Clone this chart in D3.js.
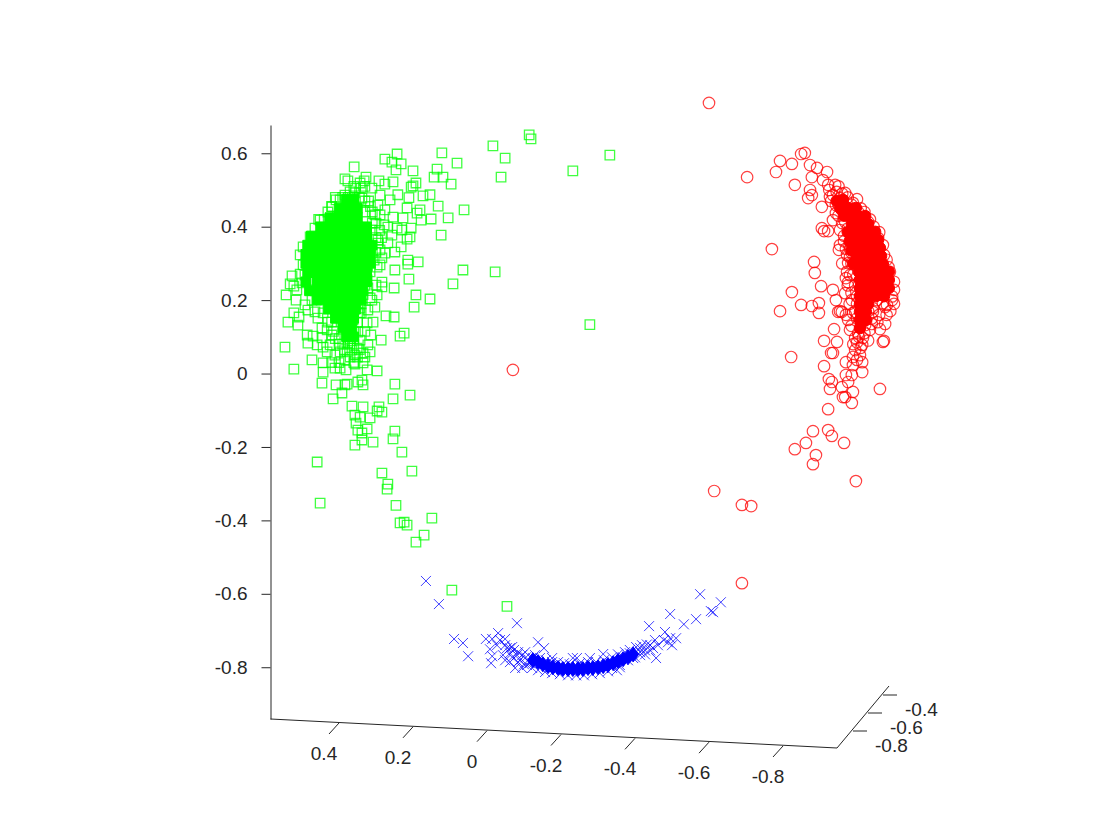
<!DOCTYPE HTML>
<html>
<head>
<meta charset="utf-8">
<script src="https://cdnjs.cloudflare.com/ajax/libs/d3/7.8.5/d3.min.js"></script>
<style>
  body { margin: 0; background: #fff; }
  text { font-family: "Liberation Sans", Arial, sans-serif; font-size: 19px; fill: #262626; }
</style>
</head>
<body>
<svg id="chart" width="1120" height="840"></svg>
<script>
// tick values and labels for the three axes
const xTicks = [0.4, 0.2, 0, -0.2, -0.4, -0.6, -0.8];
const xTickLabels = ["0.4", "0.2", "0", "-0.2", "-0.4", "-0.6", "-0.8"];
const yTicks = [0.6, 0.4, 0.2, 0, -0.2, -0.4, -0.6, -0.8];
const yTickLabels = ["0.6", "0.4", "0.2", "0", "-0.2", "-0.4", "-0.6", "-0.8"];
const zTicks = [-0.8, -0.6, -0.4];
const zTickLabels = ["-0.8", "-0.6", "-0.4"];

const greenPoints = [
[.243,.598],[.276,.584],[.257,.576],[.232,.571],[.246,.555],[.2,.552],[.122,.601],[.081,.573],[.135,.557],[.143,.535],
[.119,.535],[.097,.516],[.359,.563],[.384,.530],[.376,.525],[.327,.535],[.332,.525],[.292,.525],[.254,.522],[.276,.516],
[.192,.519],[.2,.511],[.205,.508],[.154,.487],[.173,.484],[.241,.487],[.211,.479],[.132,.456],[.181,.446],[.189,.437],
[.151,.421],[.105,.424],[.178,.418],[.062,.446],[.124,.377],[.205,.396],[.208,.372],[.216,.366],[.232,.345],[.249,.331],
[.214,.309],[.214,.298],[.186,.304],[.249,.282],[.211,.257],[.092,.244],[.284,.249],[.284,.236],[.251,.233],[.527,.266],
[.505,.271],[.522,.238],[.5,.247],[.497,.345],[.478,.372],[.419,.454],[.397,.473],[.370,.495],[.343,.519],[.311,.505],
[.289,.486],[.262,.473],[.216,.451],[.254,.426],[.227,.424],[.243,.396],[.268,.399],[.230,.391],[.257,.377],[.276,.328],
[.289,.296],[.316,.277],[.297,.290],[.324,.255],[.343,.263],[.065,.282],[-.022,.277],[-.278,.133],[-.016,.620],[-.049,.587],
[-.038,.535],[-.114,.650],[-.119,.639],[-.232,.552],[-.332,.595],[.295,.459],[.276,.446],[.303,.432],[.278,.405],[.295,.364],
[.268,.356],[.284,.315],[.305,.309],[.3,.241],[.311,.200],[.322,.173],[.516,.2],[.543,.214],[.522,.165],[.508,.154],
[.538,.140],[.511,.132],[.486,.105],[.470,.102],[.484,.083],[.546,.072],[.459,.078],[.443,.072],[.432,.059],[.473,.037],
[.522,.012],[.443,.029],[.443,.004],[.411,.015],[.397,.015],[.381,.010],[.357,.026],[.335,.029],[.324,.010],[.297,.007],
[.446,-.026],[.408,-.031],[.384,-.031],[.378,-.029],[.349,-.023],[.338,-.018],[.335,-.031],[.249,-.029],[.208,-.059],[.254,-.069],
[.416,-.069],[.392,-.053],[.365,-.089],[.335,-.091],[.292,-.091],[.297,-.102],[.284,-.105],[.357,-.113],[.343,-.119],[.316,-.121],
[.354,-.135],[.349,-.154],[.324,-.151],[.338,-.162],[.338,-.181],[.308,-.187],[.249,-.157],[.254,-.178],[.357,-.195],[.251,.154],
[.273,.157],[.197,.181],[.154,.203],[.192,.214],[.224,.110],[.235,.102],[.286,.091],[.314,.105],[.308,.140],[.297,.214],
[.303,.181],[.316,.206],[.343,.178],[.324,.138],[.362,.146],[.384,.140],[.316,.059],[.335,.056],[.351,.069],[.397,.059],
[.378,.059],[.343,.091],[.376,.083],[.349,.113],[.432,.119],[.446,.124],[.419,.105],[.492,.187],[.484,.173],[.465,.168],
[.443,.165],[.514,.228],[.532,.244],[.230,-.214],[.284,-.271],[.203,-.266],[.268,-.301],[.270,-.315],[.246,-.359],[.149,-.394],
[.224,-.405],[.235,-.407],[.216,-.413],[.170,-.440],[.192,-.459],[.095,-.590],[-.054,-.634],[.459,-.241],[.451,-.353],[.497,.296],
[.505,.323],[.492,.268],[.478,.228],[.473,.200],[.457,.151],[.446,.097],[.424,.078],[.365,.064],[.411,.050],[.384,.037],
[.357,.050],[.322,.078],[.322,.233],[.289,.337],[.311,.391],[.289,.432],[.338,.478],[.357,.492],[.384,.486],[.408,.473],
[.451,.418],[.465,.396],
[.44,.42],[.455,.42],[.30,.41],[.31,.41],[.29,.39],[.30,.37],[.285,.37],[.295,.355],[.30,.33],[.31,.33],
[.325,.31],[.33,.29],[.47,.29],[.335,.265],[.345,.265],[.34,.24],[.33,.24],[.345,.215],[.335,.215],[.35,.19],
[.34,.19],[.35,.165],[.345,.165],[.34,.165],[.35,.14],[.43,.14],[.42,.14],[.36,.115],[.415,.115],[.33,.115],
[.36,.095],[.37,.095],[.41,.095],[.40,.095],[.36,.08],[.39,.08],[.40,.08],[.37,.08],[.385,.065],[.345,.065],
[.35,.045],[.37,.045],[.33,.045],[.36,.03],[.40,.03],[.42,.03],[.36,.48],[.345,.48],[.375,.48],[.39,.48],
[.41,.48],[.33,.47],[.32,.47],[.315,.455],[.42,.455],[.43,.44],[.33,.44],[.31,.44],[.355,.505],[.34,.505],
[.33,.51],[.36,.51]
];
// the part of the cloud too dense to tell single markers apart
const greenDense = [
[.36,.475],[.38,.475],
[.35,.45],[.375,.45],[.40,.45],
[.35,.425],[.375,.425],[.40,.425],[.425,.425],
[.325,.40],[.35,.40],[.375,.40],[.40,.40],[.425,.40],[.45,.40],
[.325,.375],[.35,.375],[.375,.375],[.40,.375],[.425,.375],[.45,.375],[.475,.375],
[.31,.35],[.335,.35],[.36,.35],[.385,.35],[.41,.35],[.435,.35],[.46,.35],[.485,.35],
[.315,.325],[.34,.325],[.365,.325],[.39,.325],[.415,.325],[.44,.325],[.465,.325],[.49,.325],
[.315,.30],[.34,.30],[.365,.30],[.39,.30],[.415,.30],[.44,.30],[.465,.30],[.49,.30],
[.325,.275],[.35,.275],[.375,.275],[.40,.275],[.425,.275],[.45,.275],[.475,.275],[.485,.275],
[.325,.25],[.335,.25],[.36,.25],[.385,.25],[.41,.25],[.435,.25],[.46,.25],[.49,.25],
[.335,.225],[.345,.225],[.37,.225],[.395,.225],[.42,.225],[.445,.225],[.465,.225],[.48,.225],
[.34,.20],[.35,.20],[.375,.20],[.40,.20],[.425,.20],[.45,.20],[.46,.20],
[.355,.175],[.38,.175],[.405,.175],[.43,.175],
[.36,.15],[.385,.15],[.41,.15],
[.365,.125],[.39,.125],
[.36,.10],[.38,.10]
];

const redPoints = [
[-.859,.601],[-.849,.598],[-.792,.579],[-.824,.571],[-.781,.549],[-.832,.514],[-.873,.568],[-.892,.560],[-.919,.549],[-.878,.535],
[-.908,.527],[-.873,.500],[-.868,.478],[-.878,.486],[-.905,.454],[-.922,.514],[-.941,.514],[-.927,.481],[-.954,.478],[-.989,.465],
[-.905,.396],[-.911,.388],[-.922,.388],[-.935,.418],[-.954,.391],[-.954,.350],[-.951,.337],[-.770,.339],[-.884,.304],[-.886,.274],
[-.903,.238],[-.824,.222],[-.935,.228],[-.943,.200],[-.897,.192],[-.878,.184],[-.849,.187],[-.792,.170],[-.897,.165],[-.954,.170],
[-.959,.168],[-.976,.249],[-.968,.219],[-.976,.301],[-.973,.277],[-.981,.317],[-1.076,.181],[-1.054,.200],[-1.043,.178],[-1.095,.200],
[-1.081,.187],[-.949,.168],[-.938,.121],[-.911,.089],[-.946,.086],[-.930,.056],[-.935,.056],[-.822,.045],[-.911,.020],[-.970,.031],
[-.995,.064],[-.989,.045],[-1.0,.037],[-1.014,.031],[-.989,.023],[-1.014,.004],[-.970,-.004],[-.986,-.004],[-.976,-.023],[-.924,-.015],
[-.932,-.023],[-.927,-.042],[-.959,-.037],[-.989,-.050],[-.962,-.064],[-.968,-.064],[-.986,-.080],[-1.062,-.042],[-.922,-.097],[-.881,-.157],
[-.922,-.154],[-.932,-.170],[-.965,-.189],[-.862,-.189],[-.832,-.206],[-.889,-.222],[-.881,-.247],[-.997,-.293],[-1.073,.089],[-1.070,.086],
[-1.062,.121],[-1.076,.135],[-1.016,.097],[-1.003,.110],[-.981,.119],[-.976,.146],[-1.043,.168],[-1.070,.192],[-1.035,.119],[-1.022,.132],
[-.989,.165],[-.6,.737],[-.703,.535],[-.070,.010],[-.614,-.320],[-.689,-.358],[-.714,-.361],[-.689,-.571],[-.968,.492],[-.935,.486],
[-.943,.459],[-1.003,.440],[-1.030,.413],[-1.057,.369],[-1.073,.323],[-1.089,.277],[-1.100,.228],[-.943,.437],[-.968,.413],[-.965,.375],
[-.973,.323],[-.981,.268],[-.986,.200],[-.995,.168],[-1.014,.078],[-.995,.097],[-1.008,.050],
[-.925,.50],[-.945,.495],[-.93,.47],[-.95,.46],[-.96,.445],[-.95,.43],[-.975,.43],[-.96,.41],[-.975,.395],[-.965,.36],
[-.98,.35],[-.97,.34],[-.985,.33],[-.96,.30],[-.985,.30],[-.97,.26],[-.99,.27],[-.975,.24],[-.995,.24],[-.985,.22],
[-1.0,.21],[-.98,.19],[-1.0,.19],[-.97,.16],[-1.0,.15],[-.985,.13],[-1.005,.10],[-1.02,.11],[-1.03,.09],[-1.01,.07],
[-1.0,.085],[-.99,.08],[-1.04,.15],[-1.06,.16],[-1.08,.16],[-1.09,.17],[-1.1,.19],[-1.055,.14],[-1.03,.17],[-1.02,.15],
[-1.04,.135],[-.985,.46],[-1.01,.45],[-1.02,.44],[-1.035,.42],[-1.045,.40],[-1.06,.385],[-1.07,.35],[-1.08,.31],[-1.085,.29],
[-1.1,.25],[-1.095,.21],[-1.0,.475],[-.975,.48],[-.96,.49],[-.95,.51]
];
const redDense = [
[-.945,.47],[-.955,.45],[-.965,.43],
[-.962,.473],
[-.976,.451],[-.997,.451],
[-.981,.429],[-1.003,.429],[-1.022,.429],
[-.986,.407],[-1.008,.407],[-1.03,.407],
[-.975,.385],[-.989,.386],[-1.011,.386],[-1.032,.386],[-1.049,.386],
[-.98,.36],[-.992,.364],[-1.014,.364],[-1.035,.364],[-1.057,.364],
[-.985,.335],[-.997,.342],[-1.019,.342],[-1.041,.342],[-1.062,.342],
[-1,.320],[-1.022,.320],[-1.043,.320],[-1.065,.320],
[-.99,.30],[-1.003,.298],[-1.024,.298],[-1.046,.298],[-1.07,.298],
[-1.005,.277],[-1.027,.277],[-1.049,.277],[-1.073,.277],[-1.086,.277],
[-1.008,.255],[-1.03,.255],[-1.051,.255],[-1.073,.255],[-1.086,.255],
[-1.008,.233],[-1.03,.233],[-1.051,.233],[-1.073,.233],[-1.086,.233],
[-1.008,.211],[-1.03,.211],[-1.051,.211],[-1.073,.211],
[-1.008,.189],[-1.03,.189],
[-1.008,.168],[-1.024,.168],
[-1.008,.146],[-1.024,.146],
[-1.008,.124]
];

const bluePoints = [
[.165,-.565],[.130,-.628],[-.081,-.680],[.089,-.723],[.065,-.734],[.051,-.770],[.003,-.723],[-.030,-.707],[-.014,-.723],[-.049,-.723],
[-.008,-.751],[-.027,-.740],[-.014,-.770],[-.011,-.789],[-.054,-.748],[-.062,-.762],[-.081,-.767],[-.076,-.802],[-.103,-.759],[-.138,-.732],
[-.154,-.748],[-.176,-.775],[-.232,-.775],[-.108,-.794],[-.062,-.786],[-.089,-.781],[-.124,-.775],[-.576,-.601],[-.632,-.623],[-.605,-.647],
[-.611,-.650],[-.495,-.655],[-.565,-.669],[-.532,-.683],[-.438,-.688],[-.481,-.704],[-.495,-.721],[-.511,-.721],[-.489,-.732],[-.432,-.738],
[-.449,-.748],[-.457,-.775],[-.427,-.754],[-.386,-.762],[-.314,-.764],[-.278,-.775],[-.243,-.775],[-.395,-.775],[-.368,-.773],[-.359,-.800],
[-.332,-.789],[-.351,-.808],[-.414,-.767],[-.035,-.726],[-.043,-.767],[-.068,-.745],[-.095,-.802],[-.414,-.748],[-.441,-.754],[-.462,-.740],
[-.478,-.726],[-.5,-.740],
[-.049,-.740],[-.062,-.748],[-.073,-.753],[-.084,-.759],[-.095,-.767],[-.105,-.773],[-.049,-.781],[-.068,-.773],[-.084,-.786],[-.100,-.792],
[-.116,-.789],[-.130,-.767],[-.143,-.775],[-.159,-.781],[-.176,-.786],[-.192,-.786],[-.208,-.789],[-.224,-.792],[-.122,-.802],[-.138,-.808],
[-.157,-.813],[-.176,-.816],[-.197,-.819],[-.219,-.822],[-.241,-.822],[-.262,-.822],[-.284,-.819],[-.305,-.816],[-.327,-.811],[-.251,-.789],
[-.273,-.786],[-.295,-.786],[-.316,-.781],[-.338,-.773],[-.354,-.765],[-.373,-.759],[-.386,-.753],[-.403,-.745],[-.419,-.740],[-.381,-.781],
[-.4,-.773],[-.414,-.759],[-.359,-.794],[-.338,-.802],[-.427,-.765],[-.441,-.740],[-.454,-.726]
];
const blueDense = [
[-.124,-.781],[-.138,-.786],[-.151,-.792],[-.165,-.797],[-.178,-.800],[-.192,-.802],[-.205,-.805],[-.219,-.805],[-.232,-.805],
[-.246,-.805],[-.259,-.805],[-.273,-.802],[-.286,-.802],[-.3,-.800],[-.314,-.797],[-.327,-.794],[-.341,-.789],[-.354,-.783],[-.368,-.778],
[-.381,-.773],[-.395,-.765]
];

const svg = d3.select("#chart");
const axisColor = "#262626";

// screen scales of the 3d view
const xScale = d3.scaleLinear().domain([0.4, -0.8]).range([339, 783]);
const xAxisY = d3.scaleLinear().domain([0.4, -0.8]).range([723, 746]);
const yScale = d3.scaleLinear().domain([0.677, -0.941]).range([125, 719]);
const zScaleX = d3.scaleLinear().domain([-0.8, -0.4]).range([853, 883]);
const zScaleY = d3.scaleLinear().domain([-0.8, -0.4]).range([731, 695]);

// vertical axis
const yAxis = d3.axisLeft(yScale)
  .tickValues(yTicks)
  .tickFormat((d, i) => yTickLabels[i])
  .tickSize(9)
  .tickSizeOuter(0)
  .tickPadding(14);
const yG = svg.append("g").attr("transform", "translate(270.5,0)").call(yAxis);
yG.selectAll("path,line").attr("stroke", axisColor);
yG.attr("font-size", null).attr("font-family", null);

// the two slanted axes
const axes = svg.append("g").attr("stroke", axisColor).attr("fill", "none");
axes.append("line").attr("x1", 270.5).attr("y1", 719).attr("x2", 837).attr("y2", 748);
axes.append("line").attr("x1", 837).attr("y1", 748).attr("x2", 889).attr("y2", 686);

axes.selectAll("line.xtick").data(xTicks).enter().append("line")
  .attr("class", "xtick")
  .attr("x1", d => xScale(d)).attr("y1", d => xAxisY(d))
  .attr("x2", d => xScale(d) - 10).attr("y2", d => xAxisY(d) + 11);
svg.selectAll("text.xlabel").data(xTicks).enter().append("text")
  .attr("class", "xlabel")
  .attr("text-anchor", "middle")
  .attr("x", d => xScale(d) - 15)
  .attr("y", d => xAxisY(d) + 37)
  .text((d, i) => xTickLabels[i]);

axes.selectAll("line.ztick").data(zTicks).enter().append("line")
  .attr("class", "ztick")
  .attr("x1", d => zScaleX(d)).attr("y1", d => zScaleY(d))
  .attr("x2", d => zScaleX(d) + 14).attr("y2", d => zScaleY(d));
svg.selectAll("text.zlabel").data(zTicks).enter().append("text")
  .attr("class", "zlabel")
  .attr("x", d => zScaleX(d) + 22)
  .attr("y", d => zScaleY(d) + 21)
  .text((d, i) => zTickLabels[i]);

// markers
const squarePath = d3.symbol().type(d3.symbolSquare).size(90)();
const circlePath = d3.symbol().type(d3.symbolCircle).size(104)();
const crossPath = "M-5,-5L5,5M-5,5L5,-5";
const diamondPath = "M-5.5,0L0,-7.5L5.5,0L0,7.5Z";

function drawMarkers(points, path, color, filled, width) {
  svg.append("g").selectAll("path").data(points).enter().append("path")
    .attr("d", path)
    .attr("transform", d => "translate(" + xScale(d[0]) + "," + yScale(d[1]) + ")")
    .attr("fill", filled ? color : "none")
    .attr("stroke", color)
    .attr("stroke-width", width)
    .attr("stroke-opacity", filled ? 1 : 0.75);
}

drawMarkers(greenPoints, squarePath, "#00ff00", false, 1.3);
drawMarkers(greenDense, squarePath, "#00ff00", true, 1);
drawMarkers(redPoints, circlePath, "#ff0000", false, 1.2);
drawMarkers(redDense, circlePath, "#ff0000", true, 1);
drawMarkers(bluePoints, crossPath, "#0000ff", false, 1);
drawMarkers(blueDense, diamondPath, "#0000ff", true, 1);
</script>
</body>
</html>
